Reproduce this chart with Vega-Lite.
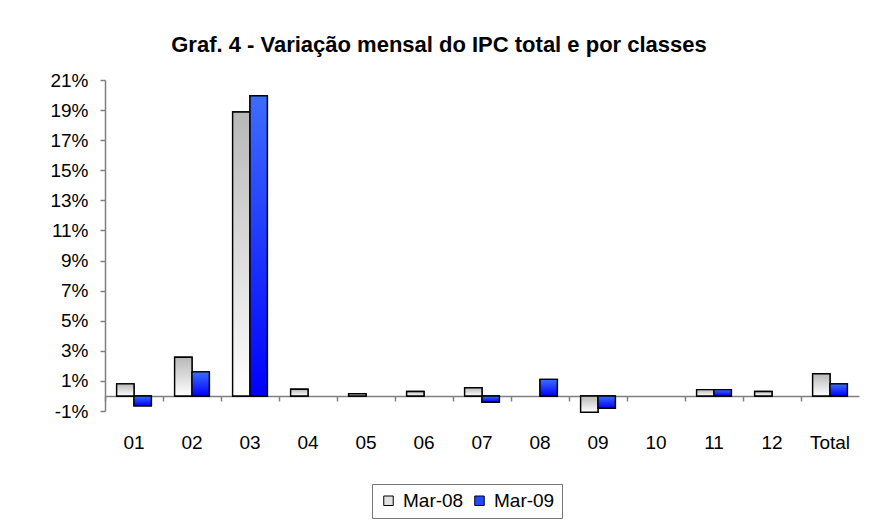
{
  "$schema": "https://vega.github.io/schema/vega-lite/v6.json",
  "width": 754,
  "height": 331,
  "autosize": {"type": "none"},
  "padding": {"left": 105, "top": 80, "right": 17, "bottom": 118},
  "background": "white",
  "title": {
    "text": "Graf. 4 - Variação mensal do IPC total e por classes",
    "font": "Liberation Sans",
    "fontSize": 22,
    "fontWeight": "bold",
    "color": "black",
    "anchor": "middle",
    "dx": -43,
    "offset": 14
  },
  "data": {
    "values": [
      {"classe": "01", "serie": "Mar-08", "valor": 0.008},
      {"classe": "01", "serie": "Mar-09", "valor": -0.0066},
      {"classe": "02", "serie": "Mar-08", "valor": 0.0257},
      {"classe": "02", "serie": "Mar-09", "valor": 0.016},
      {"classe": "03", "serie": "Mar-08", "valor": 0.1887},
      {"classe": "03", "serie": "Mar-09", "valor": 0.1995},
      {"classe": "04", "serie": "Mar-08", "valor": 0.0045},
      {"classe": "04", "serie": "Mar-09", "valor": null},
      {"classe": "05", "serie": "Mar-08", "valor": 0.0015},
      {"classe": "05", "serie": "Mar-09", "valor": null},
      {"classe": "06", "serie": "Mar-08", "valor": 0.003},
      {"classe": "06", "serie": "Mar-09", "valor": null},
      {"classe": "07", "serie": "Mar-08", "valor": 0.0055},
      {"classe": "07", "serie": "Mar-09", "valor": -0.0042},
      {"classe": "08", "serie": "Mar-08", "valor": null},
      {"classe": "08", "serie": "Mar-09", "valor": 0.011},
      {"classe": "09", "serie": "Mar-08", "valor": -0.0108},
      {"classe": "09", "serie": "Mar-09", "valor": -0.0082},
      {"classe": "10", "serie": "Mar-08", "valor": null},
      {"classe": "10", "serie": "Mar-09", "valor": null},
      {"classe": "11", "serie": "Mar-08", "valor": 0.0042},
      {"classe": "11", "serie": "Mar-09", "valor": 0.0042},
      {"classe": "12", "serie": "Mar-08", "valor": 0.003},
      {"classe": "12", "serie": "Mar-09", "valor": null},
      {"classe": "Total", "serie": "Mar-08", "valor": 0.0148},
      {"classe": "Total", "serie": "Mar-09", "valor": 0.008}
    ]
  },
  "encoding": {
    "x": {
      "field": "classe",
      "type": "nominal",
      "sort": null,
      "scale": {
        "domain": ["01", "02", "03", "04", "05", "06", "07", "08", "09", "10", "11", "12", "Total"],
        "paddingInner": 0,
        "paddingOuter": 0
      },
      "axis": {
        "title": null,
        "orient": "bottom",
        "offset": -15.05,
        "bandPosition": 0,
        "domainColor": "#808080",
        "domainWidth": 1.5,
        "tickColor": "#808080",
        "tickSize": 5,
        "tickWidth": 1.5,
        "labelAngle": 0,
        "labelPadding": 33,
        "labelFont": "Liberation Sans",
        "labelFontSize": 19,
        "labelColor": "black"
      }
    },
    "xOffset": {
      "field": "serie",
      "type": "nominal",
      "scale": {"domain": ["Mar-08", "Mar-09"], "paddingInner": 0, "paddingOuter": 0.67}
    },
    "y": {
      "field": "valor",
      "type": "quantitative",
      "scale": {"domain": [-0.01, 0.21], "nice": false, "zero": false},
      "axis": {
        "title": null,
        "values": [-0.01, 0.01, 0.03, 0.05, 0.07, 0.09, 0.11, 0.13, 0.15, 0.17, 0.19, 0.21],
        "format": ".0%",
        "labelExpr": "replace(datum.label, '\u2212', '-')",
        "grid": false,
        "domainColor": "#808080",
        "domainWidth": 1.5,
        "tickColor": "#808080",
        "tickSize": 5,
        "tickWidth": 1.5,
        "labelPadding": 12,
        "labelFont": "Liberation Sans",
        "labelFontSize": 19,
        "labelColor": "black"
      }
    }
  },
  "layer": [
    {
      "mark": {"type": "bar", "stroke": "black", "strokeWidth": 1.4},
      "encoding": {
        "color": {
          "field": "serie",
          "type": "nominal",
          "scale": {"domain": ["Mar-08", "Mar-09"], "range": ["#e2e2e2", "#2448ff"]},
          "legend": {
            "orient": "none",
            "legendX": 267,
            "legendY": 404,
            "direction": "horizontal",
            "title": null,
            "strokeColor": "#777777",
            "padding": 7,
            "symbolType": "square",
            "symbolSize": 90,
            "symbolStrokeColor": "black",
            "symbolStrokeWidth": 1,
            "labelFont": "Liberation Sans",
            "labelFontSize": 19,
            "labelColor": "black",
            "labelOffset": 5,
            "columnPadding": 6
          }
        }
      }
    },
    {
      "transform": [{"filter": "datum.serie === 'Mar-08'"}],
      "mark": {
        "type": "bar",
        "stroke": "black",
        "strokeWidth": 1.4,
        "fill": {"gradient": "linear", "x1": 0, "y1": 0, "x2": 0, "y2": 1, "stops": [{"offset": 0, "color": "#b8b8b8"}, {"offset": 1, "color": "#ffffff"}]}
      }
    },
    {
      "transform": [{"filter": "datum.serie === 'Mar-09'"}],
      "mark": {
        "type": "bar",
        "stroke": "black",
        "strokeWidth": 1.4,
        "fill": {"gradient": "linear", "x1": 0, "y1": 0, "x2": 0, "y2": 1, "stops": [{"offset": 0, "color": "#3d6dff"}, {"offset": 1, "color": "#0000ff"}]}
      }
    }
  ],
  "config": {"view": {"stroke": null}}
}
